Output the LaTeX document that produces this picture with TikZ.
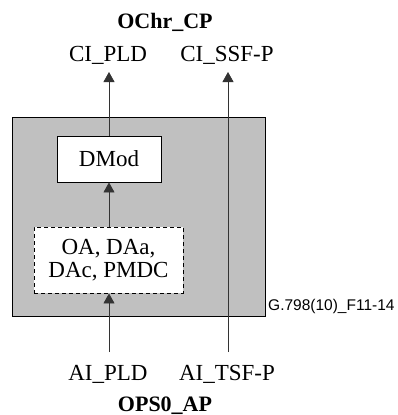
\documentclass[tikz,border=0pt]{standalone}
\usepackage{fontspec}
\setmainfont{Liberation Serif}
\newfontfamily\figsans{Liberation Sans}
\usetikzlibrary{arrows.meta}
\definecolor{boxgray}{RGB}{192,192,192}
\tikzset{
  lbl/.style={font=\fontsize{23}{24}\selectfont, inner sep=0pt, anchor=base},
  blbl/.style={font=\fontsize{22}{24}\selectfont\bfseries, inner sep=0pt, anchor=base},
  fblock/.style={draw=black, fill=white, line width=0.9pt, inner sep=0pt, font=\fontsize{23}{24}\selectfont, align=center},
  sig/.style={draw=black!80, line width=0.8pt},
  sigarr/.style={sig, -{Triangle[length=10pt,width=11pt]}},
}
\begin{document}
\begin{tikzpicture}[x=1pt,y=-1pt]
\useasboundingbox (0,0) rectangle (398,415);
% outer gray box
\node[draw=black, fill=boxgray, line width=0.9pt, minimum width=253pt, minimum height=199pt, inner sep=0pt] (outer) at (138.5,216.5) {};
% blocks
\node[fblock, minimum width=104pt, minimum height=46pt] (dmod) at (109,159) {DMod};
\node[fblock, dashed, dash pattern=on 4pt off 3pt, minimum width=149pt, minimum height=66pt] (oa) at (108.5,260) {OA, DAa,\\[-1pt]DAc, PMDC};
% labels
\node[blbl] (ochr) at (165,28) {OChr\_CP};
\node[lbl] (cipld) at (108,61) {CI\_PLD};
\node[lbl] (cissf) at (227,61) {CI\_SSF-P};
\node[lbl] (aipld) at (108,380) {AI\_PLD};
\node[lbl] (aitsf) at (227,380) {AI\_TSF-P};
\node[blbl] (ops) at (165,411) {OPS0\_AP};
\node[font=\figsans\fontsize{15.5}{16}\selectfont, inner sep=0pt, anchor=base west] (ref) at (268,310) {G.798(10)\_F11-14};
% connection points
\coordinate (tipL) at (109,72);
\coordinate (tipR) at (228,72);
\coordinate (botL) at (109,352);
\coordinate (botR) at (228,352);
% connectors
\draw[sigarr] (botL) -- (oa.south -| botL);
\draw[sigarr] (oa.north -| botL) -- (dmod.south -| botL);
\draw[sigarr] (dmod.north -| botL) -- (tipL);
\draw[sigarr] (botR) -- (tipR);
\end{tikzpicture}
\end{document}
